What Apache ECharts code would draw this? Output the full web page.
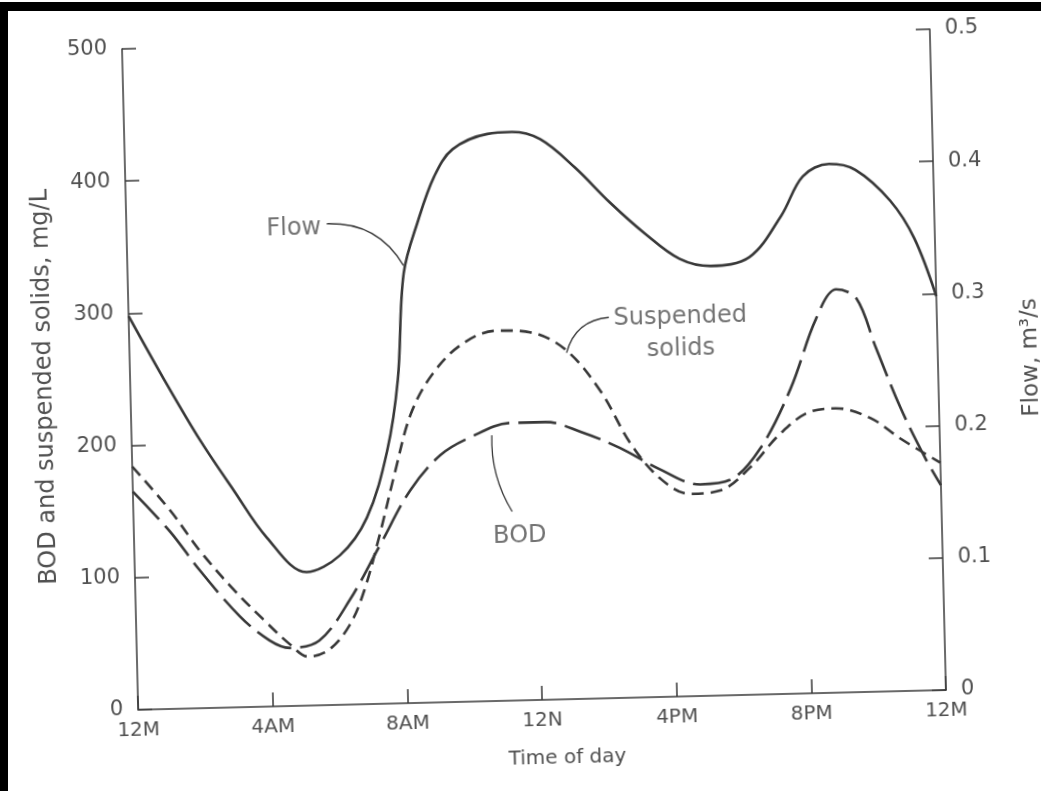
<!DOCTYPE html>
<html>
<head>
<meta charset="utf-8">
<script src="https://cdn.jsdelivr.net/npm/echarts@6/dist/echarts.min.js"></script>
<style>
  html, body { margin: 0; padding: 0; background: #fff; }
  #wrap { position: relative; width: 1041px; height: 791px; overflow: hidden; background: #fff; }
  #chart { position: absolute; left: 0; top: 0; width: 1041px; height: 791px;
           transform: rotate(-1.4deg); transform-origin: 533px 370px; }
  .edge { position: absolute; background: #000; }
</style>
</head>
<body>
<div id="wrap">
  <div id="chart"></div>
  <div class="edge" style="left:0;top:2px;width:1041px;height:9px"></div>
  <div class="edge" style="left:0;top:2px;width:8px;height:789px"></div>
</div>
<script>
// tick labels of the time axis (every 4 h)
const timeTicks = ['12M', '4AM', '8AM', '12N', '4PM', '8PM', '12M'];

// flow, m3/s (right axis)
const flowHours = [0, 1.1, 2.05, 3.0, 3.94, 5.1, 6.1, 6.93, 7.58, 7.95, 8.2, 8.67, 9.18, 9.74, 10.79, 11.52, 12.35, 13.36, 14.37, 15.38, 16.4, 17.32, 18.48, 19.46, 20.12, 20.91, 21.69, 22.7, 23.39, 24];
const flowValues = [0.298, 0.245, 0.202, 0.164, 0.128, 0.101, 0.113, 0.141, 0.191, 0.245, 0.325, 0.365, 0.398, 0.418, 0.429, 0.430, 0.424, 0.402, 0.375, 0.351, 0.331, 0.325, 0.331, 0.362, 0.391, 0.400, 0.395, 0.371, 0.342, 0.298];

// suspended solids, mg/L
const ssHours = [0, 1.1, 1.95, 2.96, 3.82, 4.54, 5.1, 5.72, 6.34, 6.8, 7.3, 7.81, 8.3, 8.94, 9.85, 10.9, 11.94, 12.97, 13.97, 14.82, 15.68, 16.55, 17.44, 18.35, 19.27, 20.18, 20.93, 21.96, 22.83, 24];
const ssValues = [184, 150, 119, 88, 65, 47, 37, 42, 60, 86, 128, 176, 218, 247, 270, 280, 278, 264, 232, 192, 165, 153, 155, 172, 197, 213, 215, 207, 191, 172];

// BOD, mg/L
const bodHours = [0, 1.08, 1.94, 3.08, 3.95, 4.54, 5.43, 6.36, 7.3, 8.24, 9.16, 10.07, 11.26, 12.3, 13.34, 14.5, 15.68, 16.85, 17.75, 18.66, 19.61, 20.41, 21.03, 21.62, 22.17, 22.86, 23.55, 24];
const bodValues = [165, 134, 104, 69, 50, 44, 49, 79, 120, 161, 187, 200, 210, 210, 202, 189, 172, 160, 163, 186, 231, 283, 305, 298, 260, 214, 176, 155];

// curve labels and their leader lines (hour, mg/L)
const labelNames = ['Flow', 'Suspended\nsolids', 'BOD'];
const labelSpots = [[4.97, 361], [16.38, 275], [11.46, 124]];
const leaderFrom = [[5.95, 364], [14.26, 288], [11.25, 143]];
const leaderTo = [[8.2, 331], [12.98, 262], [10.7, 201]];
const leaderBend = [0.3, -0.35, 0.15];

const leftTitle = 'BOD and suspended solids, mg/L';

const pair = (xs, ys) => xs.map((x, i) => [x, ys[i]]);

const ink = '#383838';
const textInk = '#505050';
const font = '"DejaVu Sans", Verdana, sans-serif';

const chart = echarts.init(document.getElementById('chart'));

const yAxisCommon = {
  type: 'value',
  nameLocation: 'middle',
  axisLine: { show: true, lineStyle: { color: ink, width: 1.5 } },
  axisTick: { show: true, inside: true, length: 14, lineStyle: { color: ink, width: 1.5 } },
  splitLine: { show: false },
  axisLabel: { fontSize: 21, color: textInk, margin: 15, fontFamily: font },
  nameTextStyle: { fontSize: 23, color: textInk, fontFamily: font }
};

const option = {
  backgroundColor: '#fff',
  animation: false,
  grid: { left: 130, top: 39, width: 808, height: 661, outerBoundsMode: 'none' },
  // left axis title as free text so it can sit close to the tick labels like the scan
  graphic: [{
    type: 'text', left: 33, top: 177, rotation: Math.PI / 2, silent: true,
    style: { text: leftTitle, fill: textInk, font: '24px ' + font, align: 'center', verticalAlign: 'middle' }
  }],
  xAxis: {
    type: 'value', min: 0, max: 24, interval: 4,
    name: 'Time of day', nameLocation: 'middle', nameGap: 49,
    nameTextStyle: { fontSize: 20, color: textInk, fontFamily: font, padding: [0, 0, 0, 48] },
    axisLine: { lineStyle: { color: ink, width: 1.5 } },
    axisTick: { inside: true, length: 14, lineStyle: { color: ink, width: 1.5 } },
    axisLabel: { formatter: v => timeTicks[v / 4], fontSize: 20, color: textInk, margin: 11, fontFamily: font },
    splitLine: { show: false }
  },
  yAxis: [
    Object.assign({}, yAxisCommon, {
      position: 'left', min: 0, max: 500, interval: 100
    }),
    Object.assign({}, yAxisCommon, {
      position: 'right', min: 0, max: 0.5, interval: 0.1,
      name: 'Flow, m³/s', nameGap: 82
    })
  ],
  series: [
    {
      name: 'Flow', type: 'line', yAxisIndex: 1, smooth: 0.35, symbol: 'none',
      lineStyle: { color: ink, width: 2.6, type: 'solid' },
      data: pair(flowHours, flowValues)
    },
    {
      name: 'Suspended solids', type: 'line', yAxisIndex: 0, smooth: 0.35, symbol: 'none',
      lineStyle: { color: ink, width: 2.6, type: [12, 7] },
      data: pair(ssHours, ssValues)
    },
    {
      name: 'BOD', type: 'line', yAxisIndex: 0, smooth: 0.35, symbol: 'none',
      lineStyle: { color: ink, width: 2.6, type: [38, 9] },
      data: pair(bodHours, bodValues)
    },
    {
      type: 'lines', coordinateSystem: 'cartesian2d', xAxisIndex: 0, yAxisIndex: 0,
      silent: true, polyline: false,
      lineStyle: { color: ink, width: 1.3, opacity: 1 },
      data: leaderFrom.map((p, i) => ({ coords: [p, leaderTo[i]], lineStyle: { curveness: leaderBend[i] } }))
    },
    {
      type: 'scatter', xAxisIndex: 0, yAxisIndex: 0, symbolSize: 0, silent: true,
      label: {
        show: true, position: 'inside', formatter: '{b}', color: textInk,
        fontSize: 24, fontFamily: font, lineHeight: 32, align: 'center'
      },
      data: labelSpots.map((p, i) => ({ name: labelNames[i], value: p }))
    }
  ]
};

chart.setOption(option);
</script>
</body>
</html>
